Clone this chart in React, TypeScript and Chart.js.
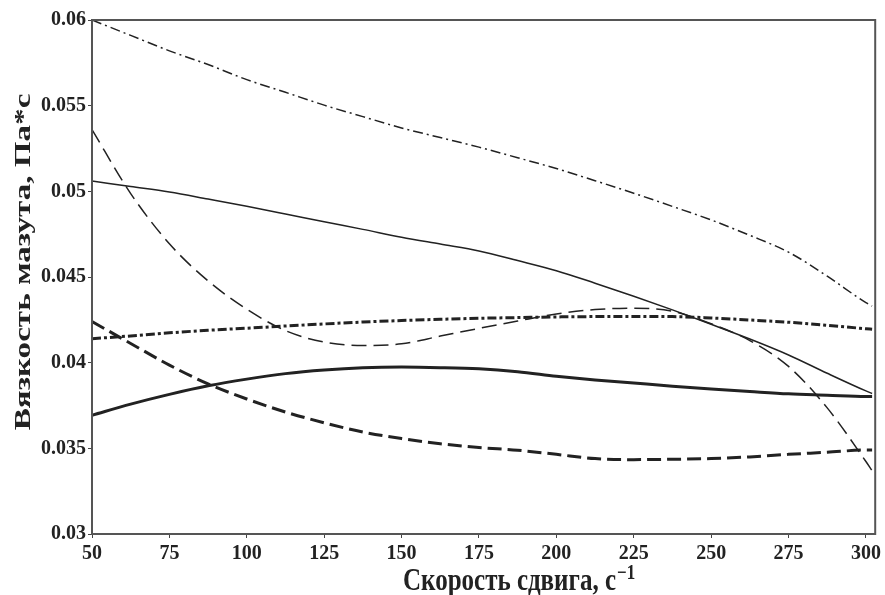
import React, { useEffect, useRef } from "react";
import { Chart, registerables } from "chart.js";

Chart.register(...registerables);

// Shear rate, s^-1
const shearRate = [50, 62.5, 75, 87.5, 100, 112.5, 125, 137.5, 150, 162.5, 175, 187.5, 200, 212.5, 225, 237.5, 250, 262.5, 275, 287.5, 300, 302];

// Viscosity series, Pa*s
const seriesThinDashDot = [0.0600, 0.0591, 0.0582, 0.0574, 0.05652, 0.05578, 0.05503, 0.05436, 0.0537, 0.05314, 0.05258, 0.05196, 0.05133, 0.05062, 0.04989, 0.04912, 0.04833, 0.04743, 0.04645, 0.04505, 0.0435, 0.0433];
const seriesThinSolid = [0.0506, 0.05028, 0.04996, 0.04955, 0.04913, 0.04868, 0.04822, 0.04778, 0.04732, 0.04692, 0.04652, 0.04596, 0.04537, 0.04464, 0.04388, 0.04308, 0.04224, 0.04138, 0.04045, 0.03938, 0.03835, 0.0382];
const seriesThinDash = [0.0536, 0.04987, 0.04694, 0.04477, 0.04312, 0.04187, 0.0412, 0.0410, 0.0411, 0.04155, 0.042, 0.04243, 0.04284, 0.0431, 0.04318, 0.043, 0.04227, 0.04129, 0.03978, 0.03736, 0.03423, 0.0337];
const seriesThickDashDot = [0.0414, 0.04156, 0.04174, 0.04189, 0.04201, 0.04214, 0.04226, 0.04237, 0.04246, 0.04253, 0.04259, 0.04263, 0.04267, 0.04269, 0.0427, 0.04269, 0.04261, 0.04249, 0.04236, 0.04218, 0.04198, 0.04195];
const seriesThickSolid = [0.03693, 0.03758, 0.03815, 0.03865, 0.03904, 0.03936, 0.03957, 0.0397, 0.03974, 0.03971, 0.03964, 0.03947, 0.03921, 0.03899, 0.03881, 0.03863, 0.03847, 0.03832, 0.03818, 0.0381, 0.03802, 0.03802];
const seriesThickDash = [0.0424, 0.04112, 0.03986, 0.03876, 0.03788, 0.03712, 0.03649, 0.03595, 0.03557, 0.03527, 0.03505, 0.03489, 0.03465, 0.0344, 0.03434, 0.03436, 0.0344, 0.0345, 0.03465, 0.03477, 0.0349, 0.0349];

const xTitle = "Скорость сдвига, с";
const xTitleSup = "−1";
const yTitle = "Вязкость мазута, Па*с";

const INK = "#222";
const FONT = "'Liberation Serif', 'Times New Roman', serif";

const frame = {
  id: "frame",
  afterDraw(chart: any) {
    const { ctx, chartArea } = chart;
    ctx.save();
    ctx.strokeStyle = "#555";
    ctx.lineWidth = 2;
    ctx.strokeRect(chartArea.left, chartArea.top, chartArea.right - chartArea.left, chartArea.bottom - chartArea.top);
    ctx.fillStyle = INK;
    ctx.textBaseline = "alphabetic";

    // x title (tall glyphs) with superscript
    ctx.save();
    ctx.font = `bold 25px ${FONT}`;
    const w1 = ctx.measureText(xTitle).width;
    const startX = 403;
    const baseY = 590;
    ctx.translate(startX, baseY);
    ctx.scale(1, 1.25);
    ctx.fillText(xTitle, 0, 0);
    ctx.restore();
    ctx.save();
    ctx.font = `bold 17px ${FONT}`;
    ctx.translate(startX + w1 + 1, baseY - 11);
    ctx.scale(1, 1.2);
    ctx.fillText(xTitleSup, 0, 0);
    ctx.restore();

    // y title (rotated, stretched along the text)
    ctx.save();
    ctx.font = `bold 24px ${FONT}`;
    ctx.translate(30, 262);
    ctx.rotate(-Math.PI / 2);
    ctx.scale(1.38, 1);
    ctx.textAlign = "center";
    ctx.fillText(yTitle, 0, 0);
    ctx.restore();

    ctx.restore();
  },
};

function mk(label: string, values: number[], width: number, dash: number[]) {
  return {
    label,
    data: shearRate.map((x, i) => ({ x, y: values[i] })),
    borderColor: INK,
    borderWidth: width,
    borderDash: dash,
    pointRadius: 0,
    fill: false,
    cubicInterpolationMode: "monotone" as const,
  };
}

export default function App() {
  const ref = useRef<HTMLCanvasElement>(null);
  useEffect(() => {
    document.body.style.margin = "0";
    const chart = new Chart(ref.current!, {
      type: "line",
      data: {
        datasets: [
          mk("1", seriesThinDashDot, 1.5, [10, 4, 2, 4]),
          mk("2", seriesThinSolid, 1.5, []),
          mk("3", seriesThinDash, 1.5, [15, 7]),
          mk("4", seriesThickDashDot, 3, [9, 3, 3, 3]),
          mk("5", seriesThickSolid, 3, []),
          mk("6", seriesThickDash, 3, [14, 6]),
        ],
      },
      options: {
        animation: false,
        responsive: false,
        layout: { padding: { left: 0, top: 20, right: 7, bottom: 0 } },
        plugins: { legend: { display: false }, tooltip: { enabled: false } },
        scales: {
          x: {
            type: "linear",
            min: 50,
            max: 303,
            afterFit: (s: any) => { s.height = 61; },
            ticks: {
              stepSize: 25,
              includeBounds: false,
              color: INK,
              font: { family: FONT, size: 20, weight: "bold" },
              padding: 4,
              maxRotation: 0,
            },
            grid: { drawOnChartArea: false, drawTicks: true, tickLength: 4, color: "#444" },
            border: { display: true, color: "#555", width: 2 },
          },
          y: {
            type: "linear",
            min: 0.03,
            max: 0.06,
            afterFit: (s: any) => { s.width = 92; },
            ticks: {
              stepSize: 0.005,
              includeBounds: false,
              color: INK,
              font: { family: FONT, size: 20, weight: "bold" },
              padding: 2,
              callback: (v: any) => String(Number(Number(v).toFixed(3))),
            },
            grid: { drawOnChartArea: false, drawTicks: true, tickLength: 4, color: "#444" },
            border: { display: true, color: "#555", width: 2 },
          },
        },
      },
      plugins: [frame],
    });
    return () => chart.destroy();
  }, []);
  return <canvas ref={ref} width={885} height={595} style={{ display: "block" }} />;
}
